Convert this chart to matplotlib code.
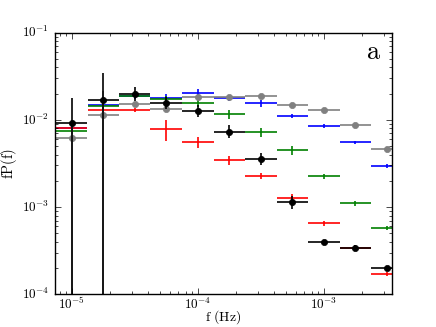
import matplotlib
matplotlib.use('Agg')
import matplotlib.pyplot as plt
from matplotlib.ticker import FuncFormatter, LogLocator
import numpy as np

plt.style.use('classic')
plt.rcParams['mathtext.fontset'] = 'cm'
plt.rcParams['figure.facecolor'] = 'white'

# bin centres (Hz), quarter-decade bins
freq = [1.0e-5, 1.78e-5, 3.16e-5, 5.62e-5, 1.0e-4, 1.78e-4, 3.16e-4, 5.62e-4, 1.0e-3, 1.78e-3, 3.16e-3]

black = [9.3e-3, 1.71e-2, 1.99e-2, 1.57e-2, 1.28e-2, 7.35e-3, 3.56e-3, 1.14e-3, 4.0e-4, 3.44e-4, 1.99e-4]
black_lo = [9.3e-3, 1.71e-2, 3.4e-3, 2.4e-3, 2.0e-3, 1.1e-3, 5.5e-4, 1.8e-4, 2.5e-5, 2e-5, 1.2e-5]
black_hi = [8.7e-3, 1.75e-2, 4.1e-3, 2.6e-3, 2.2e-3, 1.3e-3, 6.5e-4, 2.1e-4, 2.5e-5, 2e-5, 1.2e-5]

gray = [6.27e-3, 1.14e-2, 1.51e-2, 1.34e-2, 1.85e-2, 1.84e-2, 1.89e-2, 1.49e-2, 1.29e-2, 8.77e-3, 4.65e-3]
gray_lo = [6.27e-3, 1.14e-2, 1.0e-3, 8e-4, 1.0e-3, 8e-4, 6e-4, 4e-4, 3e-4, 2e-4, 1e-4]
gray_hi = [3.0e-3, 1.0e-2, 1.0e-3, 8e-4, 1.0e-3, 8e-4, 6e-4, 4e-4, 3e-4, 2e-4, 1e-4]

blue = [8.17e-3, 1.5e-2, 1.9e-2, 1.76e-2, 2.01e-2, 1.8e-2, 1.56e-2, 1.11e-2, 8.53e-3, 5.55e-3, 2.96e-3]
blue_err = [6e-4, 1.5e-3, 1.5e-3, 2.0e-3, 2.5e-3, 1.5e-3, 1.5e-3, 6e-4, 4e-4, 2e-4, 1.2e-4]

green = [7.48e-3, 1.45e-2, 1.89e-2, 1.74e-2, 1.57e-2, 1.16e-2, 7.23e-3, 4.49e-3, 2.27e-3, 1.11e-3, 5.8e-4]
green_err = [5e-4, 1.0e-3, 1.0e-3, 1.2e-3, 1.6e-3, 1.4e-3, 9e-4, 5e-4, 1.5e-4, 7e-5, 3e-5]

red = [8.17e-3, 1.30e-2, 1.30e-2, 7.88e-3, 5.64e-3, 3.47e-3, 2.29e-3, 1.28e-3, 6.55e-4, 3.44e-4, 1.71e-4]
red_lo = [5e-4, 8e-4, 8e-4, 2.2e-3, 9e-4, 4e-4, 2e-4, 1.2e-4, 4e-5, 2e-5, 1e-5]
red_hi = [5e-4, 8e-4, 8e-4, 2.0e-3, 8e-4, 4e-4, 2e-4, 1.2e-4, 4e-5, 2e-5, 1e-5]

f = np.array(freq)
xerr = [f - f * 10**-0.125, f * 10**0.125 - f]

fig = plt.figure(figsize=(4.36, 3.27), dpi=100)
ax = fig.add_subplot(111)
ax.set_xscale('log')
ax.set_yscale('log')

def eb(y, yerr, col, marker=None):
    ax.errorbar(f, y, xerr=xerr, yerr=yerr, fmt='none', ecolor=col,
                elinewidth=1.4, capsize=0, alpha=0.85)
    if marker:
        ax.plot(f, y, 'o', color=col, markersize=4.5, markeredgecolor=col)

eb(blue, blue_err, 'b')
eb(green, green_err, 'g')
eb(red, [red_lo, red_hi], 'r')
eb(gray, [gray_lo, gray_hi], '0.5', marker=True)
eb(black, [black_lo, black_hi], 'k', marker=True)

ax.set_xlim(7.3e-6, 3.5e-3)
ax.set_ylim(1e-4, 1e-1)

fmt = FuncFormatter(lambda v, p: r'$10^{%d}$' % int(round(np.log10(v))))
ax.xaxis.set_major_formatter(fmt)
ax.yaxis.set_major_formatter(fmt)
ax.xaxis.set_major_locator(LogLocator(base=10))
ax.yaxis.set_major_locator(LogLocator(base=10))
ax.tick_params(labelsize=9.5)
ax.tick_params(axis='x', pad=1.5)

ax.set_xlabel(r'$\mathrm{f\ (Hz)}$', fontsize=10)
ax.xaxis.set_label_coords(0.5, -0.054)
ax.set_ylabel(r'$\mathrm{fP(f)}$', fontsize=10.5, labelpad=2)
ax.text(0.944, 0.927, r'$\mathrm{a}$', transform=ax.transAxes, fontsize=19,
        ha='center', va='center')

fig.savefig('out.png', dpi=100, facecolor='white')
